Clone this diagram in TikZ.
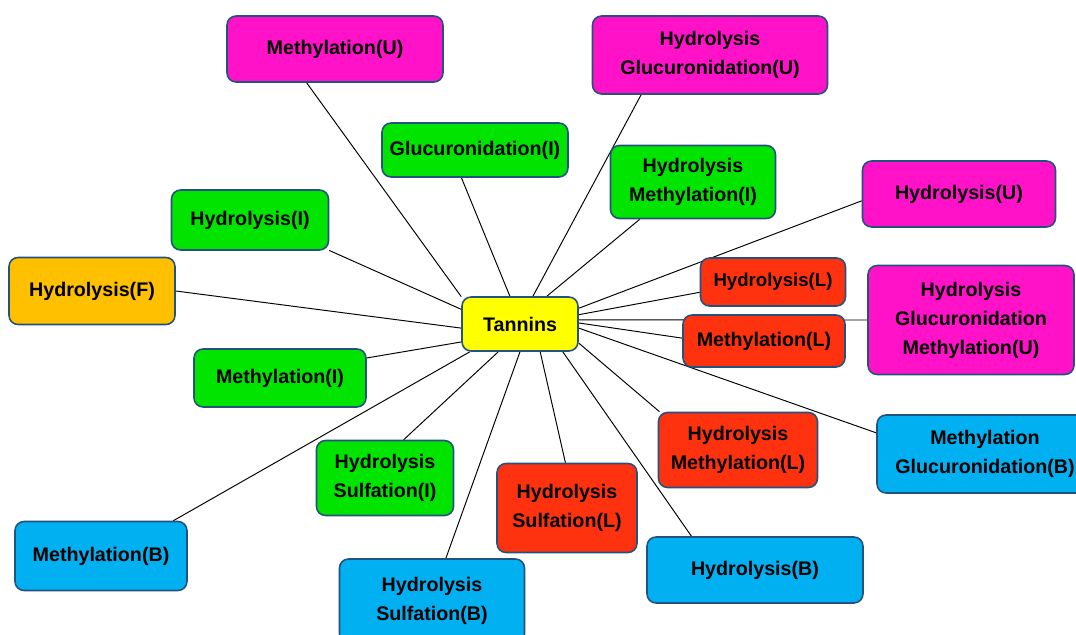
\documentclass[tikz,border=0pt]{standalone}
\usepackage{fontspec}
\setmainfont{Liberation Sans}
\usepackage{tikz}
\usetikzlibrary{backgrounds}
\usepackage{xcolor}
\definecolor{BoxMagenta}{HTML}{FF12C8}
\definecolor{BoxGreen}{HTML}{00E400}
\definecolor{BoxOrange}{HTML}{FFC000}
\definecolor{BoxYellow}{HTML}{FFFF00}
\definecolor{BoxRed}{HTML}{FF3210}
\definecolor{BoxBlue}{HTML}{00B0F0}
\definecolor{BoxEdge}{HTML}{24527F}

\begin{document}
\begin{tikzpicture}[x=0.02cm,y=-0.02cm,
  box/.style={draw=BoxEdge,line width=0.9pt,rounded corners=1.8mm,align=center,inner sep=1pt,
    font=\fontsize{11.2}{16.5}\selectfont\bfseries},
  link/.style={black,line width=0.55pt}]
\clip (0,0) rectangle (1076,635);
% centre
\node[box,fill=BoxYellow,minimum width=2.32cm,minimum height=1.08cm] (tan) at (520,324) {Tannins};
% top
\node[box,fill=BoxMagenta,minimum width=4.32cm,minimum height=1.32cm] (mu) at (335,49) {Methylation(U)};
\node[box,fill=BoxMagenta,minimum width=4.7cm,minimum height=1.56cm] (hgu) at (710,55) {Hydrolysis\\Glucuronidation(U)};
\node[box,fill=BoxGreen,minimum width=3.72cm,minimum height=1.08cm] (gi) at (475,150) {Glucuronidation(I)};
\node[box,fill=BoxGreen,minimum width=3.3cm,minimum height=1.46cm] (hmi) at (693,182) {Hydrolysis\\Methylation(I)};
\node[box,fill=BoxMagenta,minimum width=3.86cm,minimum height=1.32cm] (hu) at (959,194) {Hydrolysis(U)};
% left
\node[box,fill=BoxGreen,minimum width=3.14cm,minimum height=1.2cm] (hi) at (250,220) {Hydrolysis(I)};
\node[box,fill=BoxOrange,minimum width=3.32cm,minimum height=1.34cm] (hf) at (92,291) {Hydrolysis(F)};
\node[box,fill=BoxGreen,minimum width=3.44cm,minimum height=1.16cm] (mi) at (280,378) {Methylation(I)};
% right
\node[box,fill=BoxRed,minimum width=2.9cm,minimum height=0.96cm,font=\fontsize{10.6}{16.5}\selectfont\bfseries] (hl) at (773,282) {Hydrolysis(L)};
\node[box,fill=BoxMagenta,minimum width=4.12cm,minimum height=2.18cm] (hgmu) at (971,320) {Hydrolysis\\Glucuronidation\\Methylation(U)};
\node[box,fill=BoxRed,minimum width=3.24cm,minimum height=1.04cm] (ml) at (764,341) {Methylation(L)};
\node[box,fill=BoxRed,minimum width=3.18cm,minimum height=1.5cm] (hml) at (738,450) {Hydrolysis\\Methylation(L)};
\node[box,fill=BoxBlue,minimum width=4.32cm,minimum height=1.56cm] (mgb) at (985,454) {Methylation\\Glucuronidation(B)};
% bottom
\node[box,fill=BoxGreen,minimum width=2.74cm,minimum height=1.5cm] (hsi) at (385,478) {Hydrolysis\\Sulfation(I)};
\node[box,fill=BoxRed,minimum width=2.8cm,minimum height=1.78cm] (hsl) at (567,508) {Hydrolysis\\Sulfation(L)};
\node[box,fill=BoxBlue,minimum width=3.44cm,minimum height=1.38cm] (mb) at (101,556) {Methylation(B)};
\node[box,fill=BoxBlue,minimum width=4.32cm,minimum height=1.32cm] (hb) at (755,570) {Hydrolysis(B)};
\node[box,fill=BoxBlue,minimum width=3.7cm,minimum height=1.68cm] (hsb) at (432,601) {Hydrolysis\\Sulfation(B)};
% spokes, behind the boxes
\begin{scope}[on background layer]
\fill[white] (0,0) rectangle (1076,635);
\draw[link] (mu.230) -- (tan.155);
\draw[link] (gi.244) -- (tan.110);
\draw[link] (hgu.210) -- (tan.65);
\draw[link] (hmi.215) -- (tan.46);
\draw[link] (hu.184) -- (tan.15);
\draw[link] (hl.188) -- (tan.9);
\draw[link] (hgmu.west) -- (tan.4);
\draw[link] (ml.178) -- (tan.1);
\draw[link] (mgb.169.5) -- (tan.-4);
\draw[link] (hml.154) -- (tan.-18);
\draw[link] (hb.152) -- (tan.-33);
\draw[link] (hsl.92.5) -- (tan.-54.5);
\draw[link] (hsb.72.8) -- (tan.-90);
\draw[link] (hsi.64.7) -- (tan.-128);
\draw[link] (mb.26) -- (tan.209);
\draw[link] (mi.13) -- (tan.197.5);
\draw[link] (hf.east) -- (tan.184);
\draw[link] (hi.-21.5) -- (tan.166);
\end{scope}
\end{tikzpicture}
\end{document}
